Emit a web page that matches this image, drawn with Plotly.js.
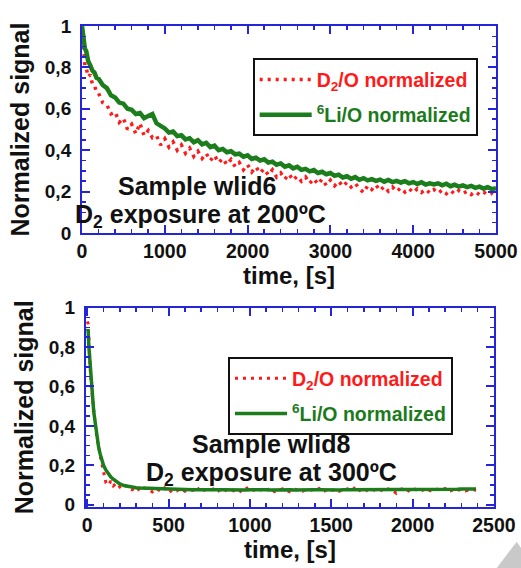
<!DOCTYPE html>
<html>
<head>
<meta charset="utf-8">
<script src="https://cdn.plot.ly/plotly-3.0.1.min.js"></script>
<style>html,body{margin:0;padding:0;background:#fff;}#chart{width:521px;height:568px;}</style>
</head>
<body>
<div id="chart"></div>
<script>
// ---- Top panel: sample wlid6, 200 ºC ----
var timeTop = [0,10,20,35,50,75,100,125,150,175,200,
 250,300,350,400,450,500,550,600,650,700,
 750,800,850,900,950,1000,1050,1100,1150,1200,
 1250,1300,1350,1400,1450,1500,1550,1600,1650,1700,
 1750,1800,1850,1900,1950,2000,2050,2100,2150,2200,
 2250,2300,2350,2400,2450,2500,2550,2600,2650,2700,
 2750,2800,2850,2900,2950,3000,3050,3100,3150,3200,
 3250,3300,3350,3400,3450,3500,3550,3600,3650,3700,
 3750,3800,3850,3900,3950,4000,4050,4100,4150,4200,
 4250,4300,4350,4400,4450,4500,4550,4600,4650,4700,
 4750,4800,4850,4900,4950,5000];
var li6oTop = [1.00,0.96,0.95,0.89,0.88,0.83,0.81,0.785,0.775,0.75,0.745,
 0.715,0.70,0.665,0.655,0.63,0.625,0.60,0.595,0.575,0.58,
 0.555,0.565,0.575,0.53,0.52,0.505,0.485,0.49,0.468,0.472,
 0.452,0.458,0.438,0.448,0.428,0.435,0.415,0.422,0.40,0.406,
 0.39,0.395,0.38,0.383,0.368,0.375,0.358,0.364,0.35,0.356,
 0.34,0.345,0.33,0.336,0.32,0.327,0.312,0.32,0.305,0.31,
 0.298,0.304,0.29,0.296,0.284,0.29,0.276,0.282,0.268,0.274,
 0.262,0.27,0.257,0.265,0.254,0.26,0.252,0.258,0.248,0.256,
 0.246,0.252,0.244,0.25,0.24,0.246,0.237,0.245,0.234,0.24,
 0.235,0.24,0.23,0.238,0.226,0.233,0.224,0.23,0.222,0.228,
 0.218,0.224,0.215,0.221,0.212,0.216];
var d2oTop = [0.98,0.90,0.89,0.81,0.80,0.755,0.765,0.72,0.715,0.68,0.675,
 0.63,0.62,0.575,0.585,0.535,0.555,0.50,0.525,0.48,0.53,
 0.47,0.495,0.46,0.47,0.425,0.455,0.415,0.44,0.40,0.425,
 0.385,0.41,0.37,0.395,0.36,0.385,0.35,0.375,0.34,0.36,
 0.33,0.355,0.32,0.34,0.305,0.33,0.295,0.32,0.29,0.31,
 0.28,0.305,0.27,0.29,0.26,0.285,0.255,0.275,0.25,0.27,
 0.24,0.262,0.235,0.26,0.23,0.255,0.228,0.25,0.225,0.245,
 0.222,0.24,0.215,0.195,0.228,0.21,0.232,0.205,0.225,0.202,
 0.222,0.2,0.218,0.198,0.215,0.195,0.214,0.196,0.212,0.193,
 0.21,0.192,0.208,0.19,0.206,0.188,0.205,0.19,0.202,0.186,
 0.2,0.185,0.198,0.184,0.192,0.178];

// ---- Bottom panel: sample wlid8, 300 ºC ----
var timeBottom = [0,5,10,15,20,25,30,35,40,50,60,70,80,90,100,115,130,145,160,180,200,225,250,275,300,
 325,350,375,400,425,450,475,500,525,550,
 575,600,625,650,675,700,725,750,775,800,
 825,850,875,900,925,950,975,1000,1025,1050,
 1075,1100,1125,1150,1175,1200,1225,1250,1275,1300,
 1325,1350,1375,1400,1425,1450,1475,1500,1525,1550,
 1575,1600,1625,1650,1675,1700,1725,1750,1775,1800,
 1825,1850,1875,1900,1925,1950,1975,2000,2025,2050,
 2075,2100,2125,2150,2175,2200,2225,2250,2275,2300,
 2325,2350,2375,2390];
var li6oBottom = [0.88,0.89,0.80,0.74,0.70,0.63,0.58,0.53,0.47,0.41,0.34,0.29,0.255,0.225,0.20,0.175,0.155,0.14,0.13,0.115,0.105,0.097,0.092,0.088,0.086,
 0.084,0.083,0.082,0.081,0.080,0.080,0.078,0.077,0.078,0.077,
 0.076,0.077,0.076,0.075,0.076,0.075,0.076,0.075,0.074,0.075,
 0.076,0.075,0.074,0.075,0.076,0.075,0.074,0.075,0.076,0.075,
 0.074,0.075,0.074,0.075,0.076,0.075,0.074,0.075,0.074,0.075,
 0.076,0.075,0.074,0.075,0.075,0.074,0.075,0.076,0.075,0.074,
 0.075,0.075,0.076,0.075,0.074,0.075,0.076,0.075,0.074,0.075,
 0.075,0.074,0.075,0.076,0.075,0.074,0.075,0.076,0.075,0.075,
 0.076,0.075,0.076,0.077,0.076,0.077,0.078,0.077,0.078,0.079,
 0.078,0.079,0.078,0.079];
var d2oBottom = [0.93,0.92,0.85,0.72,0.66,0.60,0.56,0.50,0.45,0.40,0.33,0.30,0.245,0.21,0.17,0.11,0.10,0.12,0.095,0.11,0.09,0.105,0.085,0.075,0.09,
 0.07,0.085,0.08,0.065,0.08,0.07,0.085,0.06,0.075,0.07,
 0.082,0.068,0.078,0.072,0.088,0.065,0.075,0.07,0.08,0.066,
 0.078,0.072,0.083,0.07,0.076,0.064,0.08,0.09,0.072,0.068,
 0.078,0.07,0.085,0.066,0.074,0.08,0.07,0.064,0.078,0.072,
 0.068,0.08,0.074,0.07,0.082,0.066,0.076,0.071,0.079,0.068,
 0.074,0.08,0.07,0.09,0.072,0.085,0.068,0.078,0.07,0.076,
 0.066,0.08,0.072,0.058,0.078,0.082,0.07,0.085,0.074,0.068,
 0.08,0.072,0.066,0.078,0.07,0.082,0.068,0.075,0.072,0.078,
 0.07,0.074,0.076,0.072];

// ---- Tick labels ----
var yTickVals = [0,0.2,0.4,0.6,0.8,1];
var yTickText = ['0','0,2','0,4','0,6','0,8','1'];
var xTickValsTop = [0,1000,2000,3000,4000,5000];
var xTickValsBottom = [0,500,1000,1500,2000,2500];

// ---- Labels ----
var nameD2O = '<span style="color:#ff1a1a">D<sub>2</sub>/O normalized</span>';
var nameLi6 = '<span style="color:#1b7a1b"><sup>6</sup>Li/O normalized</span>';

var FONT = 'Liberation Sans, Arial, sans-serif';
var BLUE = '#2424d8';
var RED = '#ff1a1a';
var GREEN = '#1b7d1b';

var traces = [
  {x: timeTop, y: d2oTop, xaxis:'x', yaxis:'y', mode:'lines', name:nameD2O, legend:'legend', legendgroup:'a',
   line:{color:RED, width:3.5, dash:'3px,5px'}},
  {x: timeTop, y: li6oTop, xaxis:'x', yaxis:'y', mode:'lines', name:nameLi6, legend:'legend', legendgroup:'b',
   line:{color:GREEN, width:4.5}},
  {x: timeBottom, y: d2oBottom, xaxis:'x2', yaxis:'y2', mode:'lines', name:nameD2O, legend:'legend2', legendgroup:'c',
   line:{color:RED, width:3, dash:'3px,5px'}},
  {x: timeBottom, y: li6oBottom, xaxis:'x2', yaxis:'y2', mode:'lines', name:nameLi6, legend:'legend2', legendgroup:'d',
   line:{color:GREEN, width:3.5}}
];

function xAxis(domain, range, tickvals, minorDtick, anchor){
  return {domain:domain, range:range, anchor:anchor, tickmode:'array', tickvals:tickvals,
    ticktext: tickvals.map(String),
    showline:true, linecolor:BLUE, linewidth:2, mirror:'allticks',
    ticks:'inside', ticklen:8, tickwidth:2, tickcolor:BLUE,
    minor:{dtick:minorDtick, ticklen:4, tickwidth:1.5, tickcolor:BLUE, ticks:'inside'},
    showgrid:false, zeroline:false, automargin:false,
    tickfont:{family:FONT, size:19.5, color:'#111', weight:'bold'},
    title:{text:'time, [s]', font:{family:FONT, size:24, color:'#111', weight:'bold'}, standoff:6}};
}
function yAxis(domain, range, anchor){
  return {domain:domain, range:range, anchor:anchor, tickmode:'array', tickvals:yTickVals, ticktext:yTickText,
    showline:true, linecolor:BLUE, linewidth:2, mirror:'allticks',
    ticks:'inside', ticklen:8, tickwidth:2, tickcolor:BLUE,
    minor:{dtick:0.05, ticklen:4, tickwidth:1.5, tickcolor:BLUE, ticks:'inside'},
    showgrid:false, zeroline:false, automargin:false, ticklabelstandoff:5,
    tickfont:{family:FONT, size:19, color:'#111', weight:'bold'},
    title:{text:'Normalized signal', font:{family:FONT, size:25, color:'#111', weight:'bold'}, standoff:8}};
}

var legendStyle = function(x, y){
  return {x:x, y:y, xanchor:'left', yanchor:'top', bgcolor:'#ffffff', bordercolor:'#111', borderwidth:2,
    font:{family:FONT, size:19.5, weight:'bold', color:'#111'}, itemwidth:52, tracegroupgap:7};
};

var annFont = {family:FONT, size:25, color:'#111', weight:'bold'};
var layout = {
  width:521, height:568,
  margin:{l:0, r:0, t:0, b:0, autoexpand:false},
  paper_bgcolor:'#ffffff', plot_bgcolor:'#ffffff',
  showlegend:true, hovermode:false,
  xaxis: xAxis([0.1574, 0.952], [0, 5000], xTickValsTop, 200, 'y'),
  yaxis: yAxis([0.5898, 0.9542], [0, 1], 'x'),
  xaxis2: xAxis([0.165, 0.948], [-8, 2500], xTickValsBottom, 100, 'y2'),
  yaxis2: yAxis([0.1074, 0.4583], [-0.012, 1], 'x2'),
  legend: legendStyle(0.485, 0.8974),
  legend2: legendStyle(0.4376, 0.3715),
  annotations:[
    {xref:'paper', yref:'paper', x:0.378, y:0.6725, text:'Sample wlid6', showarrow:false, font:annFont, xanchor:'center', yanchor:'middle'},
    {xref:'paper', yref:'paper', x:0.384, y:0.620, text:'D<sub>2</sub> exposure at 200ºC', showarrow:false, font:annFont, xanchor:'center', yanchor:'middle'},
    {xref:'paper', yref:'paper', x:0.520, y:0.218, text:'Sample wlid8', showarrow:false, font:annFont, xanchor:'center', yanchor:'middle'},
    {xref:'paper', yref:'paper', x:0.522, y:0.166, text:'D<sub>2</sub> exposure at 300ºC', showarrow:false, font:annFont, xanchor:'center', yanchor:'middle'}
  ],
  shapes:[
    {type:'path', xref:'paper', yref:'paper', path:'M 0.9534 0 L 0.9917 0.0463 L 1 0.035 L 1 0 Z',
     fillcolor:'#c9c9c9', line:{width:0}}
  ]
};

Plotly.newPlot('chart', traces, layout, {staticPlot:true, displayModeBar:false});
</script>
</body>
</html>
